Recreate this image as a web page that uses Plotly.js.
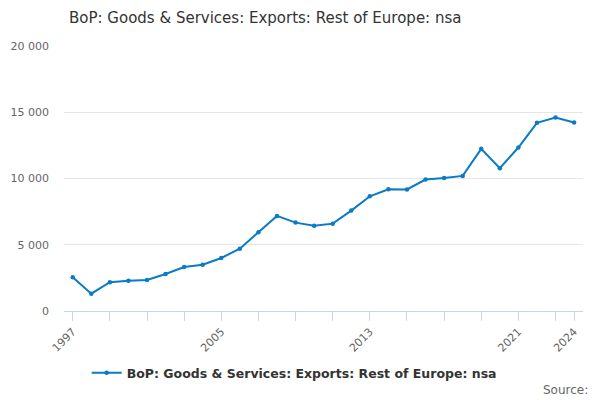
<!DOCTYPE html>
<html>
<head>
<meta charset="utf-8">
<script src="https://cdn.plot.ly/plotly-3.0.1.min.js"></script>
<style>html,body{margin:0;padding:0;background:#fff;}#chart{width:600px;height:400px;}</style>
</head>
<body>
<div id="chart"></div>
<script>
var years = [1997,1998,1999,2000,2001,2002,2003,2004,2005,2006,2007,2008,2009,2010,2011,2012,2013,2014,2015,2016,2017,2018,2019,2020,2021,2022,2023,2024];
var exportsValues = [2545,1307,2168,2290,2341,2795,3323,3497,4003,4706,5941,7175,6670,6443,6594,7576,8660,9190,9170,9920,10045,10196,12236,10776,12337,14199,14602,14222];
var seriesName = "BoP: Goods & Services: Exports: Rest of Europe: nsa";
var tickYears = [1997,1999,2001,2003,2005,2007,2009,2011,2013,2015,2017,2019,2021,2023,2024];
var tickLabels = ["1997","","","","2005","","","","2013","","","","2021","","2024"];
var yTicks = [0,5000,10000,15000,20000];

var trace = {
  x: years, y: exportsValues, name: seriesName,
  type: 'scatter', mode: 'lines+markers',
  line: {color: '#0a7bc5', width: 2},
  marker: {color: '#0a7bc5', size: 4.5},
  showlegend: true
};
var layout = {
  width: 600, height: 400,
  margin: {l: 64, r: 17, t: 46, b: 89},
  paper_bgcolor: '#fff', plot_bgcolor: '#fff',
  separators: '. ',
  font: {family: 'DejaVu Sans, sans-serif', color: '#666'},
  title: {text: 'BoP: Goods & Services: Exports: Rest of Europe: nsa', font: {family: 'DejaVu Sans, sans-serif', size: 15, color: '#333'},
          xref: 'container', x: 0.115, xanchor: 'left', yref: 'container', y: 0.955, yanchor: 'middle'},
  xaxis: {range: [1996.53, 2024.48], tickvals: tickYears, ticktext: tickLabels, tickangle: -45,
          ticks: 'outside', ticklen: 9, tickcolor: '#ccd6eb', tickwidth: 1,
          showline: true, linecolor: '#ccd6eb', linewidth: 1, showgrid: false, zeroline: false,
          tickfont: {size: 11, color: '#666'}, fixedrange: true},
  yaxis: {range: [0, 20000], tickvals: yTicks, tickformat: ',.0f', showgrid: true, gridcolor: '#e6e6e6',
          zeroline: false, showline: false, ticks: '', tickfont: {size: 11, color: '#666'}, ticklabelstandoff: 14},
  legend: {orientation: 'h', x: 0.4435, xanchor: 'center', y: -0.234, yanchor: 'middle',
           font: {size: 12.5, color: '#333', weight: 'bold'}},
  annotations: [{text: 'Source:', xref: 'paper', yref: 'paper', x: 1.0135, y: -0.298, xanchor: 'right', yanchor: 'middle',
                 showarrow: false, font: {size: 12, color: '#666'}}]
};
Plotly.newPlot('chart', [trace], layout, {displayModeBar: false, staticPlot: true});
</script>
</body>
</html>
